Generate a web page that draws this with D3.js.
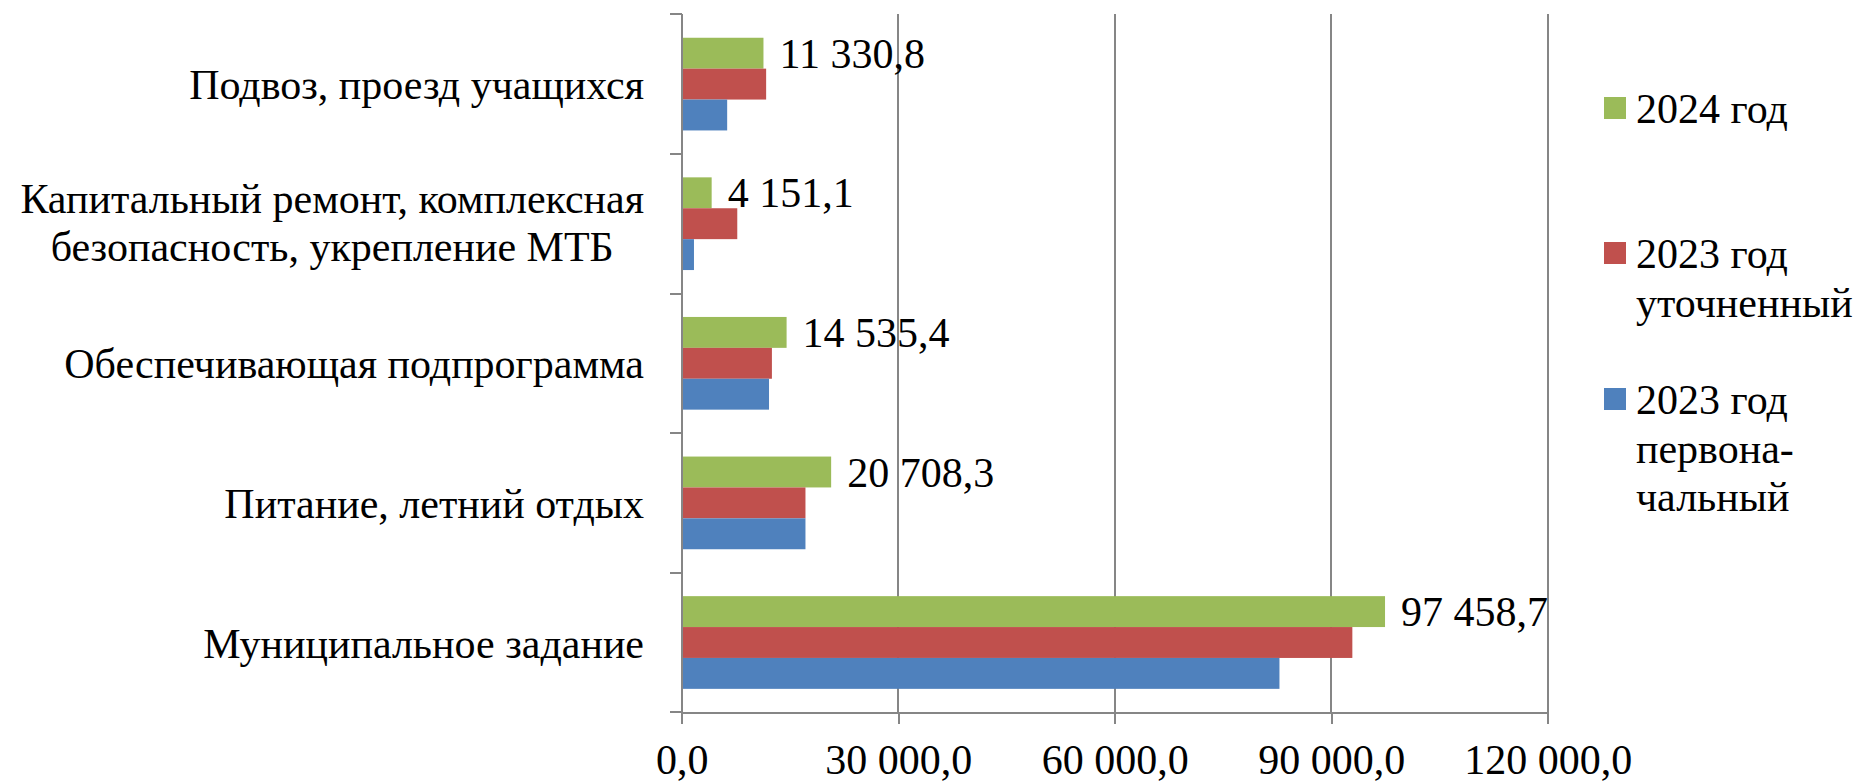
<!DOCTYPE html>
<meta charset="utf-8">
<style>
body { margin: 0; background: #fff; }
svg { display: block; }
.grid line, .axis line, .axis path {
  stroke: #868686;
  stroke-width: 2px;
  shape-rendering: crispEdges;
}
</style>
<svg width="1860" height="781" font-family="'Liberation Serif'" font-size="42px"></svg>

<script src="https://d3js.org/d3.v7.min.js"></script>
<script>

// categories from top to bottom, split into lines as in the chart
var categories = [
  ["Подвоз, проезд учащихся"],
  ["Капитальный ремонт, комплексная", "безопасность, укрепление МТБ"],
  ["Обеспечивающая подпрограмма"],
  ["Питание, летний отдых"],
  ["Муниципальное задание"]
];

var v2024 = [11330.8, 4151.1, 14535.4, 20708.3, 97458.7];
var v2023utoch = [11700, 7700, 12500, 17150, 92930];
var v2023perv = [6300, 1700, 12100, 17150, 82830];

var seriesNames = [["2024 год"], ["2023 год", "уточненный"], ["2023 год", "первона-", "чальный"]];
var seriesColors = ["#9bbb59", "#c0504d", "#4f81bd"];

var xTicks = [0, 30000, 60000, 90000, 120000];

var svg = d3.select("svg");

var plotLeft = 681.7, plotRight = 1547.7, plotTop = 14.3, plotBottom = 712.3;
var serif = "'Liberation Serif', 'Times New Roman', serif";

var ru = d3.formatLocale({decimal: ",", thousands: " ", grouping: [3], currency: ["", ""]});
var fmt = ru.format(",.1f");

var x = d3.scaleLinear().domain([0, 120000]).range([plotLeft, plotRight]);

var y = d3.scaleBand()
    .domain(d3.range(categories.length))
    .range([plotTop, plotBottom])
    .paddingInner(0.336)
    .paddingOuter(0.168);

var sub = d3.scaleBand()
    .domain([0, 1, 2])
    .range([0, y.bandwidth()]);

var series = [v2024, v2023utoch, v2023perv];

// gridlines
svg.append("g")
    .attr("class", "grid")
  .selectAll("line")
  .data(xTicks.slice(1))
  .enter().append("line")
    .attr("x1", function(d) { return x(d); })
    .attr("x2", function(d) { return x(d); })
    .attr("y1", plotTop)
    .attr("y2", plotBottom);

// bars
var groups = svg.append("g")
  .selectAll("g")
  .data(series)
  .enter().append("g")
    .attr("fill", function(d, i) { return seriesColors[i]; });

groups.selectAll("rect")
  .data(function(d, i) { return d.map(function(v, j) { return {v: v, cat: j, s: i}; }); })
  .enter().append("rect")
    .attr("x", x(0))
    .attr("y", function(d) { return y(d.cat) + sub(d.s); })
    .attr("width", function(d) { return x(d.v) - x(0); })
    .attr("height", sub.bandwidth());

// value labels for 2024
svg.append("g")
  .selectAll("text")
  .data(v2024)
  .enter().append("text")
    .attr("x", function(d) { return x(d) + 16; })
    .attr("y", function(d, i) { return y(i) + sub(0) + sub.bandwidth() / 2 + 14.5; })
    .style("font-family", serif)
    .style("font-size", "42px")
    .text(function(d) { return fmt(d); });

// x axis
var xAxis = svg.append("g")
    .attr("class", "axis")
    .attr("transform", "translate(0," + plotBottom + ")")
    .call(d3.axisBottom(x).tickValues(xTicks).tickSize(12).tickSizeOuter(0).tickFormat(fmt));
xAxis.attr("font-family", null).attr("font-size", null);
xAxis.selectAll("text")
    .attr("y", 62)
    .attr("dy", null)
    .style("font-size", "42px")
    .style("font-family", serif)
    .attr("fill", "#000");

// y axis line and boundary ticks
var step = y.step();
var bounds = d3.range(categories.length + 1).map(function(i) { return plotTop + i * step; });
var yAxis = svg.append("g").attr("class", "axis");
yAxis.append("line")
    .attr("x1", plotLeft).attr("x2", plotLeft)
    .attr("y1", plotTop).attr("y2", plotBottom);
yAxis.selectAll(".tk")
  .data(bounds)
  .enter().append("line")
    .attr("class", "tk")
    .attr("x1", plotLeft - 12).attr("x2", plotLeft)
    .attr("y1", function(d) { return d; })
    .attr("y2", function(d) { return d; });

// category labels: block right aligned, lines centred inside the block
var lineH = 48.4;
var catG = svg.append("g")
  .selectAll("g")
  .data(categories)
  .enter().append("g");

catG.each(function(lines, i) {
  var g = d3.select(this);
  var cy = y(i) + y.bandwidth() / 2;
  var first = cy + 15 - (lines.length - 1) * lineH / 2 - 1.5 * (lines.length - 1);
  var t = g.selectAll("text")
    .data(lines)
    .enter().append("text")
      .attr("text-anchor", "middle")
      .attr("x", 0)
      .attr("y", function(d, k) { return first + k * lineH; })
      .style("font-family", serif)
      .style("font-size", "42px")
      .text(function(d) { return d; });
  var w = d3.max(t.nodes(), function(n) { return n.getComputedTextLength(); });
  g.attr("transform", "translate(" + (644 - w / 2) + ",0)");
});

// legend
var legendTop = [97, 242, 388];
var legend = svg.append("g")
  .selectAll("g")
  .data(seriesNames)
  .enter().append("g")
    .attr("transform", function(d, i) { return "translate(1604," + legendTop[i] + ")"; });

legend.append("rect")
    .attr("width", 22)
    .attr("height", 22)
    .attr("fill", function(d, i) { return seriesColors[i]; });

legend.selectAll("text")
  .data(function(d) { return d; })
  .enter().append("text")
    .attr("x", 32)
    .attr("y", function(d, k) { return 26 + k * 48.5; })
    .style("font-family", serif)
    .style("font-size", "42px")
    .text(function(d) { return d; });

</script>
